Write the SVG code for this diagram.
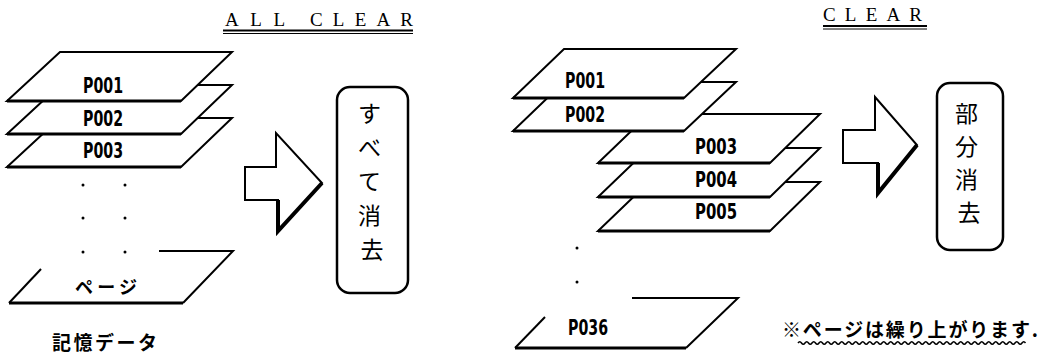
<svg xmlns="http://www.w3.org/2000/svg" width="1049" height="364" viewBox="0 0 1049 364">
<style>
.pg{fill:#fff;stroke:#000;stroke-width:2;stroke-linejoin:miter}
.ln{fill:none;stroke:#000;stroke-width:2}
.bt{fill:none;stroke:#000;stroke-width:3}
.lbl{font-family:"Liberation Sans Narrow","DejaVu Sans Condensed","Liberation Sans",sans-serif;font-weight:bold;font-size:21px;fill:#000}
.ttl{font-family:"Liberation Serif","DejaVu Serif",serif;font-size:19px;fill:#000}
.jp{font-family:"Noto Sans CJK JP",sans-serif;fill:#000}
.box{fill:#fff;stroke:#000;stroke-width:2.5}
.arr{fill:#fff;stroke:#000;stroke-width:2;stroke-linejoin:miter}
.sh{fill:none;stroke:#000;stroke-width:4;stroke-linejoin:miter}
.dot{fill:#000}
</style>
<rect width="1049" height="364" fill="#fff"/>

<g id="title-all-clear">
<text class="ttl" x="225" y="26" textLength="60" lengthAdjust="spacing">ALL</text>
<text class="ttl" x="310" y="26" textLength="103" lengthAdjust="spacing">CLEAR</text>
<line x1="223" y1="30.5" x2="413" y2="30.5" stroke="#000" stroke-width="2"/>
<line x1="223" y1="33.5" x2="413" y2="33.5" stroke="#000" stroke-width="1"/>
</g>

<g id="title-clear">
<text class="ttl" x="823" y="21" textLength="99" lengthAdjust="spacing">CLEAR</text>
<line x1="823" y1="26" x2="927" y2="26" stroke="#000" stroke-width="2"/>
<line x1="823" y1="29" x2="927" y2="29" stroke="#000" stroke-width="1"/>
</g>

<g id="left-stack">
<g id="L-P003">
<polygon class="pg" points="60,118 232,118 181,167 7,167"/>
<line class="bt" x1="7" y1="167" x2="181" y2="167"/>
<text class="lbl" x="83" y="158" textLength="40" lengthAdjust="spacingAndGlyphs">P003</text>
</g>
<g id="L-P002">
<polygon class="pg" points="60,85 232,85 181,134 7,134"/>
<line class="bt" x1="7" y1="134" x2="181" y2="134"/>
<text class="lbl" x="83" y="126" textLength="40" lengthAdjust="spacingAndGlyphs">P002</text>
</g>
<g id="L-P001">
<polygon class="pg" points="60,52 232,52 181,101 7,101"/>
<line class="bt" x1="7" y1="101" x2="181" y2="101"/>
<text class="lbl" x="83" y="93" textLength="40" lengthAdjust="spacingAndGlyphs">P001</text>
</g>
<g id="L-dots">
<circle class="dot" cx="83" cy="185" r="1.5"/><circle class="dot" cx="125" cy="185" r="1.5"/>
<circle class="dot" cx="83" cy="218" r="1.5"/><circle class="dot" cx="125" cy="218" r="1.5"/>
<circle class="dot" cx="83" cy="252" r="1.5"/><circle class="dot" cx="125" cy="252" r="1.5"/>
</g>
<g id="L-page">
<polyline class="ln" points="159,251 233,251 183,303"/>
<line class="bt" x1="9" y1="303" x2="183" y2="303"/>
<line class="ln" x1="9" y1="303" x2="41" y2="269"/>
<text class="jp" x="75" y="294" font-size="18" font-weight="bold" textLength="62" lengthAdjust="spacing">ページ</text>
</g>
<g id="L-caption">
<text class="jp" x="52" y="350" font-size="19" font-weight="bold" textLength="105" lengthAdjust="spacing">記憶データ</text>
</g>
</g>

<g id="connectors">
<g id="arrow-left">
<polygon class="arr" points="245,167 276,167 276,133 322,183 278,231 278,200 245,200"/>
<polyline class="sh" points="322,183 278,231 278,200"/>
</g>
<g id="arrow-right">
<polygon class="arr" points="843,130 875,130 875,97 917,145 878,193 878,163 843,163"/>
<polyline class="sh" points="917,145 878,193 878,163"/>
</g>
</g>

<g id="box-all">
<rect class="box" x="337" y="87" width="71" height="206" rx="13"/>
<text class="jp" font-size="23" text-anchor="middle">
<tspan x="372" y="122">す</tspan>
<tspan x="372" y="156">べ</tspan>
<tspan x="372" y="190">て</tspan>
<tspan x="372" y="224">消</tspan>
<tspan x="372" y="258">去</tspan>
</text>
</g>

<g id="right-stack">
<g id="R-P005">
<polygon class="pg" points="649,182 820,182 770,231 598,231"/>
<line class="bt" x1="598" y1="231" x2="770" y2="231"/>
<text class="lbl" x="695" y="219" textLength="42" lengthAdjust="spacingAndGlyphs">P005</text>
</g>
<g id="R-P004">
<polygon class="pg" points="649,148 820,148 770,197 598,197"/>
<line class="bt" x1="598" y1="197" x2="770" y2="197"/>
<text class="lbl" x="695" y="187" textLength="42" lengthAdjust="spacingAndGlyphs">P004</text>
</g>
<g id="R-P003">
<polygon class="pg" points="649,114 820,114 770,163 598,163"/>
<line class="bt" x1="598" y1="163" x2="770" y2="163"/>
<text class="lbl" x="695" y="154" textLength="42" lengthAdjust="spacingAndGlyphs">P003</text>
</g>
<g id="R-P002">
<polygon class="pg" points="564,82 736,82 684,131 513,131"/>
<line class="bt" x1="513" y1="131" x2="684" y2="131"/>
<text class="lbl" x="565" y="122" textLength="40" lengthAdjust="spacingAndGlyphs">P002</text>
</g>
<g id="R-P001">
<polygon class="pg" points="564,49 736,49 684,98 513,98"/>
<line class="bt" x1="513" y1="98" x2="684" y2="98"/>
<text class="lbl" x="565" y="88" textLength="40" lengthAdjust="spacingAndGlyphs">P001</text>
</g>
<g id="R-dots">
<circle class="dot" cx="577" cy="248" r="1.5"/>
<circle class="dot" cx="577" cy="282" r="1.5"/>
</g>
<g id="R-P036">
<polyline class="ln" points="632,298 738,298 686,348"/>
<line class="bt" x1="515" y1="348" x2="686" y2="348"/>
<line class="ln" x1="515" y1="348" x2="545" y2="317"/>
<text class="lbl" x="568" y="335" textLength="40" lengthAdjust="spacingAndGlyphs">P036</text>
</g>
</g>

<g id="box-partial">
<rect class="box" x="937" y="83" width="66" height="167" rx="13"/>
<text class="jp" font-size="23" text-anchor="middle">
<tspan x="969" y="122">部</tspan>
<tspan x="969" y="155">分</tspan>
<tspan x="969" y="188">消</tspan>
<tspan x="969" y="221">去</tspan>
</text>
</g>

<g id="note">
<text class="jp" x="782" y="337" font-size="19" font-weight="bold" textLength="256" lengthAdjust="spacing">※ページは繰り上がります.</text>
<path fill="none" stroke="#000" stroke-width="1.5" d="M798,343 q1.75,-2.6 3.5,0 t3.5,0 t3.5,0 t3.5,0 t3.5,0 t3.5,0 t3.5,0 t3.5,0 t3.5,0 t3.5,0 t3.5,0 t3.5,0 t3.5,0 t3.5,0 t3.5,0 t3.5,0 t3.5,0 t3.5,0 t3.5,0 t3.5,0 t3.5,0 t3.5,0 t3.5,0 t3.5,0 t3.5,0 t3.5,0 t3.5,0 t3.5,0 t3.5,0 t3.5,0 t3.5,0 t3.5,0 t3.5,0 t3.5,0 t3.5,0 t3.5,0 t3.5,0 t3.5,0 t3.5,0 t3.5,0 t3.5,0 t3.5,0 t3.5,0 t3.5,0 t3.5,0 t3.5,0 t3.5,0 t3.5,0 t3.5,0 t3.5,0 t3.5,0 t3.5,0 t3.5,0 t3.5,0 t3.5,0 t3.5,0 t3.5,0 t3.5,0 t3.5,0 t3.5,0 t3.5,0 t3.5,0 t3.5,0 t3.5,0 t3.5,0"/>
</g>
</svg>
